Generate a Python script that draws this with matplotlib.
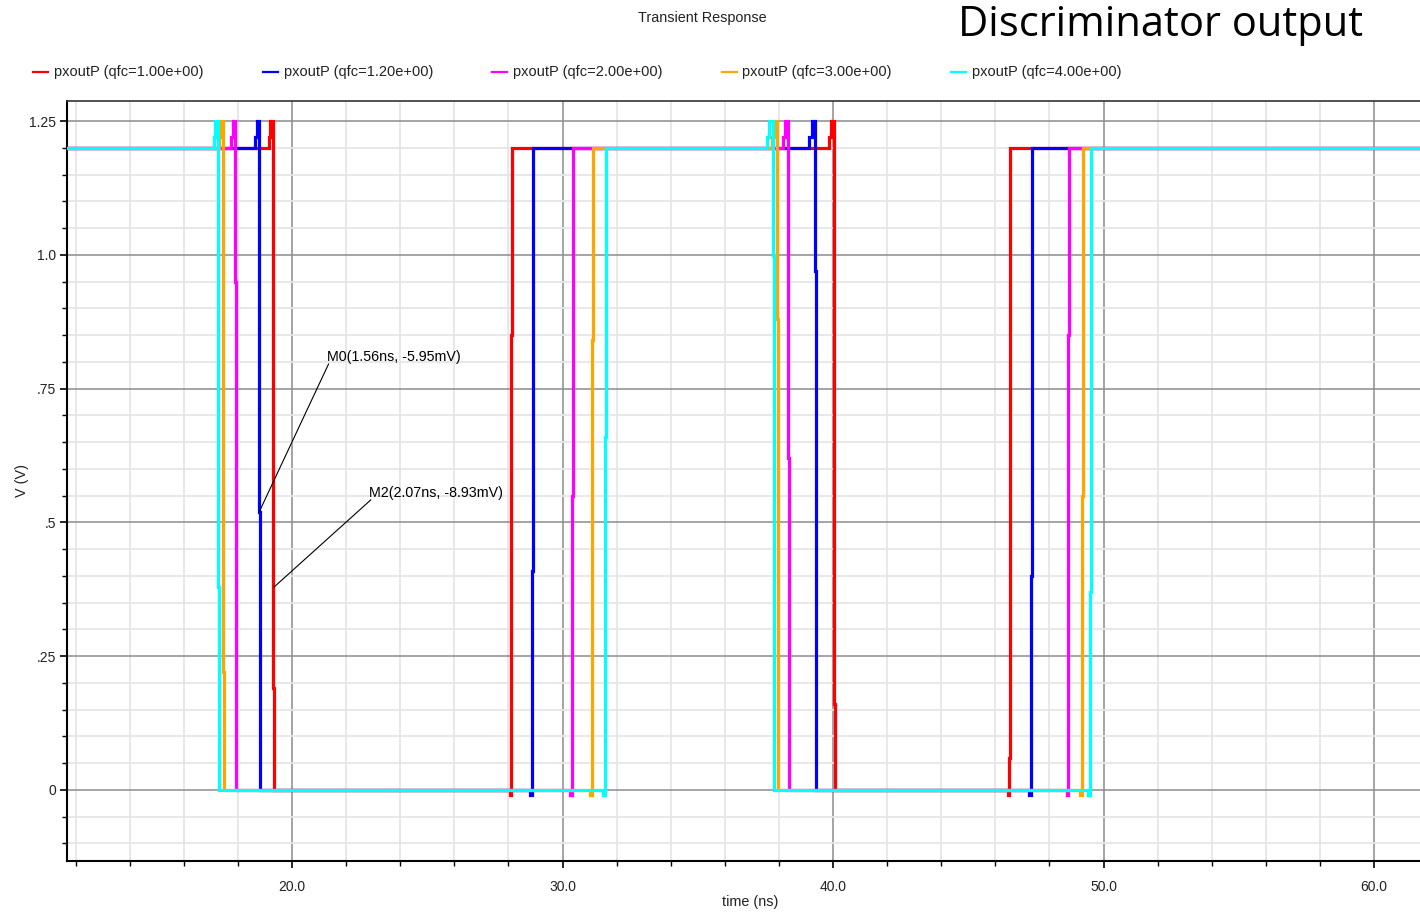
import matplotlib
matplotlib.use("Agg")
import matplotlib.pyplot as plt
from matplotlib.ticker import MultipleLocator, FixedLocator, FixedFormatter

plt.rcParams["font.family"] = ["Liberation Sans", "DejaVu Sans"]

# series, in drawing order (cyan ends up on top)
labels = [
    "pxoutP (qfc=1.00e+00)",
    "pxoutP (qfc=1.20e+00)",
    "pxoutP (qfc=2.00e+00)",
    "pxoutP (qfc=3.00e+00)",
    "pxoutP (qfc=4.00e+00)",
]
colors = ["#ff0000", "#0000ff", "#ff00ff", "#ffa500", "#00ffff"]

# edge times (ns)
fall1 = [19.29, 18.79, 17.89, 17.46, 17.25]
rise1 = [28.10, 28.86, 30.34, 31.09, 31.57]
fall2 = [40.04, 39.33, 38.35, 37.94, 37.77]
rise2 = [46.52, 47.32, 48.70, 49.20, 49.50]

# voltage where each edge shows a small step (V)
fall1_kink = [0.19, 0.52, 0.95, 0.22, 0.38]
rise1_kink = [0.85, 0.41, 0.55, 0.84, 0.66]
fall2_kink = [0.16, 0.97, 0.62, 0.88, 1.00]
rise2_kink = [0.06, 0.40, 0.85, 0.55, 0.37]

HIGH, LOW = 1.2, 0.0
SPIKE_MID, SPIKE_TOP = 1.22, 1.25
DIP = -0.01
T_START, T_END = 11.68, 61.70

# markers
marker_names = ["M0(1.56ns, -5.95mV)", "M2(2.07ns, -8.93mV)"]
marker_t = [18.78, 19.33]
marker_v = [0.519, 0.379]
marker_text_t = [21.30, 22.86]
marker_text_v = [0.796, 0.542]

y_ticks = [0, 0.25, 0.5, 0.75, 1.0, 1.25]
y_ticklabels = ["0", ".25", ".5", ".75", "1.0", "1.25"]
x_ticks = [20, 30, 40, 50, 60]
x_ticklabels = ["20.0", "30.0", "40.0", "50.0", "60.0"]


def falling(tf, kink, width):
    t = [tf - width, tf - width, tf - width * 0.6, tf - width * 0.6, tf, tf, tf + 0.04, tf + 0.04]
    v = [HIGH, SPIKE_MID, SPIKE_MID, SPIKE_TOP, SPIKE_TOP, kink, kink, LOW]
    return t, v


def rising(tr, kink):
    t = [tr - 0.06, tr - 0.06, tr, tr, tr + 0.04, tr + 0.04]
    v = [LOW, DIP, DIP, kink, kink, HIGH]
    return t, v


def waveform(i):
    t, v = [T_START], [HIGH]
    for part in (
        falling(fall1[i], fall1_kink[i], 0.15),
        rising(rise1[i], rise1_kink[i]),
        falling(fall2[i], fall2_kink[i], 0.2),
        rising(rise2[i], rise2_kink[i]),
    ):
        t += part[0]
        v += part[1]
    t.append(T_END)
    v.append(HIGH)
    return t, v


W, H = 1420, 913
fig = plt.figure(figsize=(W / 100, H / 100), dpi=100, facecolor="white")
ax = fig.add_axes([67 / W, (H - 861) / H, 1 - 67 / W, (861 - 101) / H])

for i, color in enumerate(colors):
    t, v = waveform(i)
    ax.plot(t, v, color=color, linewidth=2.3, solid_joinstyle="miter", zorder=3 + i)

ax.set_xlim(T_START, T_END)
ax.set_ylim(-0.1327, 1.2874)

ax.xaxis.set_major_locator(FixedLocator(x_ticks))
ax.xaxis.set_major_formatter(FixedFormatter(x_ticklabels))
ax.xaxis.set_minor_locator(MultipleLocator(2))
ax.yaxis.set_major_locator(FixedLocator(y_ticks))
ax.yaxis.set_major_formatter(FixedFormatter(y_ticklabels))
ax.yaxis.set_minor_locator(MultipleLocator(0.05))

ax.grid(which="minor", color="#e6e6e6", linewidth=1.3, zorder=0)
ax.grid(which="major", color="#8c8c8c", linewidth=1.1, zorder=1)
ax.set_axisbelow(True)

ax.tick_params(which="major", length=5, width=1.2, colors="black", labelsize=10, labelcolor="#222222")
ax.tick_params(which="minor", length=3.5, width=1.0, colors="black")
ax.tick_params(axis="x", pad=9)
ax.tick_params(axis="y", pad=3)

ax.spines["right"].set_visible(False)
ax.spines["top"].set_color("#333333")
ax.spines["top"].set_linewidth(1.2)
ax.spines["left"].set_linewidth(1.5)
ax.spines["bottom"].set_linewidth(1.5)

for name, mt, mv, tt, tv in zip(marker_names, marker_t, marker_v, marker_text_t, marker_text_v):
    ax.plot([tt + 0.05, mt], [tv, mv], color="black", linewidth=0.8, zorder=10)
    ax.text(tt, tv, name, fontsize=10.3, ha="left", va="bottom", color="black", zorder=11)

fig.text(702 / W, 1 - 18 / H, "Transient Response", fontsize=10.4, ha="center", va="center", color="#222222")
fig.text(958 / W, 1 - 25 / H, "Discriminator output", fontsize=30, ha="left", va="center",
         color="black", family=["Open Sans", "DejaVu Sans"])
fig.text(22 / W, 1 - 480 / H, "V (V)", fontsize=10.4, rotation=90, ha="center", va="center", color="#222222")
fig.text(750 / W, 1 - 902 / H, "time (ns)", fontsize=10.4, ha="center", va="center", color="#222222")

# legend row
for i, (label, color) in enumerate(zip(labels, colors)):
    x0 = 33 + i * 229.5
    y = 1 - 72 / H
    fig.add_artist(plt.Line2D([x0 / W, (x0 + 15) / W], [y, y], color=color, linewidth=1.6, transform=fig.transFigure))
    fig.text((x0 + 21) / W, y, label, fontsize=10.5, ha="left", va="center", color="#222222")

fig.savefig("out.png", dpi=100)
